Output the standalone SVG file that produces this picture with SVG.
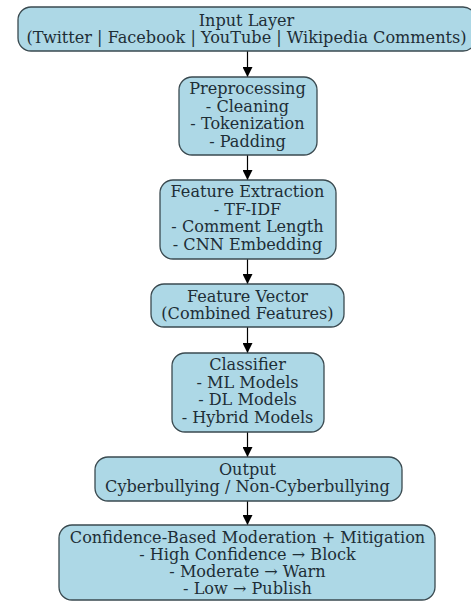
<svg xmlns="http://www.w3.org/2000/svg" width="471" height="602" viewBox="0 0 471 602">
<defs>
<marker id="ah" markerWidth="10" markerHeight="10" refX="10" refY="5" orient="auto" markerUnits="userSpaceOnUse">
<path d="M0,0 L10,5 L0,10 Z" fill="#000"/>
</marker>
<style>
.n rect{fill:#add8e6;stroke:#3a4a50;stroke-width:1.3}
.n text{font-family:"DejaVu Serif",serif;font-size:16.1px;fill:#1e2e36;text-anchor:middle}
.e line{stroke:#000;stroke-width:1.2;marker-end:url(#ah)}
</style>
</defs>
<rect width="471" height="602" fill="#fff"/>
<g id="edges" class="e">
<line x1="247.5" y1="51" x2="247.5" y2="77"/>
<line x1="247.5" y1="155" x2="247.5" y2="180"/>
<line x1="247.5" y1="259" x2="247.5" y2="284"/>
<line x1="247.5" y1="327" x2="247.5" y2="353"/>
<line x1="247.5" y1="432" x2="247.5" y2="457"/>
<line x1="247.5" y1="501" x2="247.5" y2="525"/>
</g>
<g id="input" class="n">
<rect x="18" y="7" width="458" height="44" rx="13"/>
<text x="246.5" y="26">Input Layer</text>
<text x="246.5" y="43">(Twitter | Facebook | YouTube | Wikipedia Comments)</text>
</g>
<g id="preprocessing" class="n">
<rect x="179" y="77" width="138" height="78" rx="13"/>
<text x="247.5" y="94">Preprocessing</text>
<text x="247.5" y="111.5">- Cleaning</text>
<text x="247.5" y="129">- Tokenization</text>
<text x="247.5" y="146.5">- Padding</text>
</g>
<g id="feature_extraction" class="n">
<rect x="160" y="180" width="176" height="79" rx="13"/>
<text x="247.5" y="197">Feature Extraction</text>
<text x="247.5" y="214.5">- TF-IDF</text>
<text x="247.5" y="232">- Comment Length</text>
<text x="247.5" y="249.5">- CNN Embedding</text>
</g>
<g id="feature_vector" class="n">
<rect x="151" y="284" width="193" height="43" rx="13"/>
<text x="247.5" y="302">Feature Vector</text>
<text x="247.5" y="319">(Combined Features)</text>
</g>
<g id="classifier" class="n">
<rect x="172" y="353" width="152" height="79" rx="13"/>
<text x="247.5" y="370">Classifier</text>
<text x="247.5" y="387.5">- ML Models</text>
<text x="247.5" y="405">- DL Models</text>
<text x="247.5" y="422.5">- Hybrid Models</text>
</g>
<g id="output" class="n">
<rect x="95" y="457" width="307" height="44" rx="13"/>
<text x="247.5" y="475">Output</text>
<text x="247.5" y="492">Cyberbullying / Non-Cyberbullying</text>
</g>
<g id="moderation" class="n">
<rect x="59" y="525" width="376" height="75" rx="13"/>
<text x="247.5" y="543">Confidence-Based Moderation + Mitigation</text>
<text x="247.5" y="560">- High Confidence → Block</text>
<text x="247.5" y="577">- Moderate → Warn</text>
<text x="247.5" y="594">- Low → Publish</text>
</g>
</svg>
